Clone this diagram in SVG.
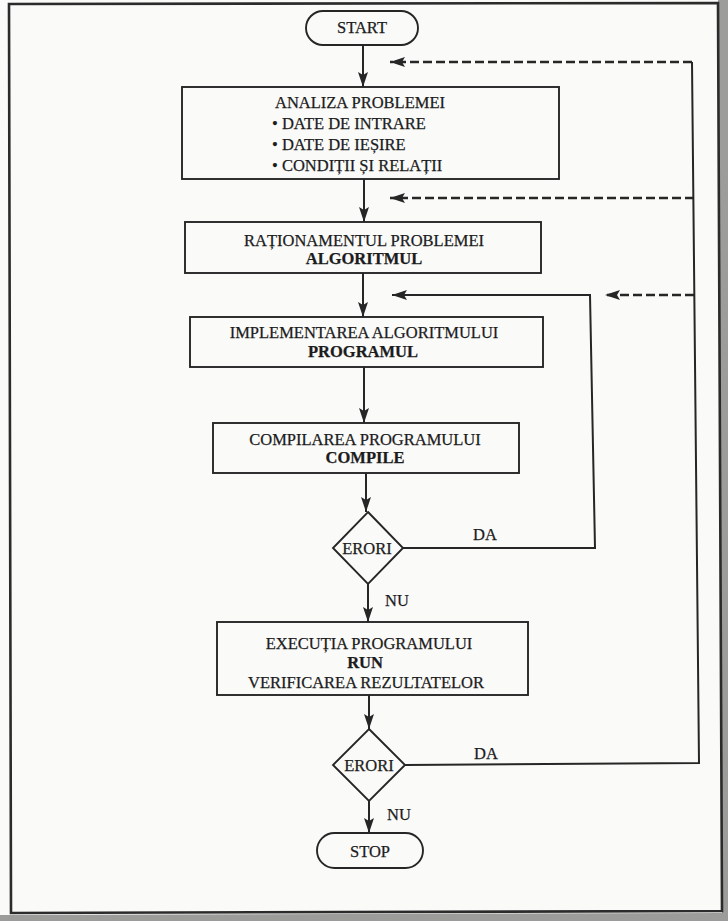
<svg xmlns="http://www.w3.org/2000/svg" width="728" height="921" viewBox="0 0 728 921">
  <defs>
    <style>
      .page { fill: #fafaf9; }
      .margin { fill: #9c9c9a; }
      .frame { fill: none; stroke: #2b2b2b; stroke-width: 2.6; }
      .box { fill: none; stroke: #262626; stroke-width: 1.9; }
      .line { fill: none; stroke: #262626; stroke-width: 2; }
      .dash { fill: none; stroke: #262626; stroke-width: 2.3; stroke-dasharray: 9 4; }
      text { font-family: "Liberation Serif", "Times New Roman", serif; font-size: 16.5px; fill: #1c1c1c; stroke: #1c1c1c; stroke-width: 0.25; }
      .c { text-anchor: middle; }
      .b { font-weight: bold; }
    </style>
    <marker id="ah" viewBox="0 0 15 10" refX="15" refY="5" markerWidth="15" markerHeight="10" markerUnits="userSpaceOnUse" orient="auto">
      <path d="M0,0 L15,5 L0,10 L3,5 z" fill="#262626"/>
    </marker>
  </defs>

  <rect class="margin" x="0" y="0" width="728" height="921"/>
  <polygon class="page" points="0,0 718,0 722,913 0,915"/>
  <polygon class="frame" points="9,4 718,3 722,911 11,913"/>

  <g id="connectors">
    <line class="line" x1="363" y1="45" x2="363" y2="87" marker-end="url(#ah)"/>
    <line class="line" x1="364" y1="179" x2="364" y2="222" marker-end="url(#ah)"/>
    <line class="line" x1="363" y1="273" x2="363" y2="317" marker-end="url(#ah)"/>
    <line class="line" x1="364" y1="367" x2="364" y2="423" marker-end="url(#ah)"/>
    <line class="line" x1="366" y1="473" x2="366" y2="512" marker-end="url(#ah)"/>
    <line class="line" x1="368" y1="584" x2="368" y2="622" marker-end="url(#ah)"/>
    <line class="line" x1="369" y1="695" x2="369" y2="729" marker-end="url(#ah)"/>
    <line class="line" x1="369" y1="801" x2="369" y2="833" marker-end="url(#ah)"/>
    <polyline class="line" points="403,548 595,548 590,295 392,295" marker-end="url(#ah)"/>
    <polyline class="line" points="405,765 699,763 692,62"/>
    <line class="dash" x1="692" y1="62" x2="390" y2="62" marker-end="url(#ah)"/>
    <line class="dash" x1="694" y1="198" x2="390" y2="198" marker-end="url(#ah)"/>
    <line class="dash" x1="694" y1="295" x2="605" y2="295" marker-end="url(#ah)"/>
    <text x="485" y="540" class="c">DA</text>
    <text x="385" y="606">NU</text>
    <text x="486" y="759" class="c">DA</text>
    <text x="387" y="820">NU</text>
  </g>

  <g id="start">
    <rect class="box" x="306" y="11" width="112" height="34" rx="17"/>
    <text x="362" y="33" class="c">START</text>
  </g>

  <g id="analiza">
    <rect class="box" x="182" y="87" width="377" height="92"/>
    <text x="360" y="108" class="c">ANALIZA PROBLEMEI</text>
    <text x="272" y="129">• DATE DE INTRARE</text>
    <text x="272" y="150">• DATE DE IEȘIRE</text>
    <text x="272" y="171">• CONDIȚII ȘI RELAȚII</text>
  </g>

  <g id="rationament">
    <rect class="box" x="185" y="222" width="356" height="51"/>
    <text x="364" y="246" class="c">RAȚIONAMENTUL PROBLEMEI</text>
    <text x="364" y="264" class="c b">ALGORITMUL</text>
  </g>

  <g id="implementare">
    <rect class="box" x="190" y="317" width="353" height="50"/>
    <text x="364" y="338" class="c">IMPLEMENTAREA ALGORITMULUI</text>
    <text x="363" y="357" class="c b">PROGRAMUL</text>
  </g>

  <g id="compilare">
    <rect class="box" x="213" y="423" width="306" height="50"/>
    <text x="365" y="445" class="c">COMPILAREA PROGRAMULUI</text>
    <text x="365" y="463" class="c b">COMPILE</text>
  </g>

  <g id="erori1">
    <polygon class="box" points="368,512 403,548 368,584 333,548"/>
    <text x="367" y="554" class="c">ERORI</text>
  </g>

  <g id="executie">
    <rect class="box" x="217" y="622" width="311" height="73"/>
    <text x="369" y="649" class="c">EXECUȚIA PROGRAMULUI</text>
    <text x="365" y="668" class="c b">RUN</text>
    <text x="366" y="688" class="c">VERIFICAREA REZULTATELOR</text>
  </g>

  <g id="erori2">
    <polygon class="box" points="369,729 405,765 369,801 333,765"/>
    <text x="369" y="771" class="c">ERORI</text>
  </g>

  <g id="stop">
    <rect class="box" x="317" y="833" width="106" height="35" rx="17.5"/>
    <text x="370" y="857" class="c">STOP</text>
  </g>
</svg>
